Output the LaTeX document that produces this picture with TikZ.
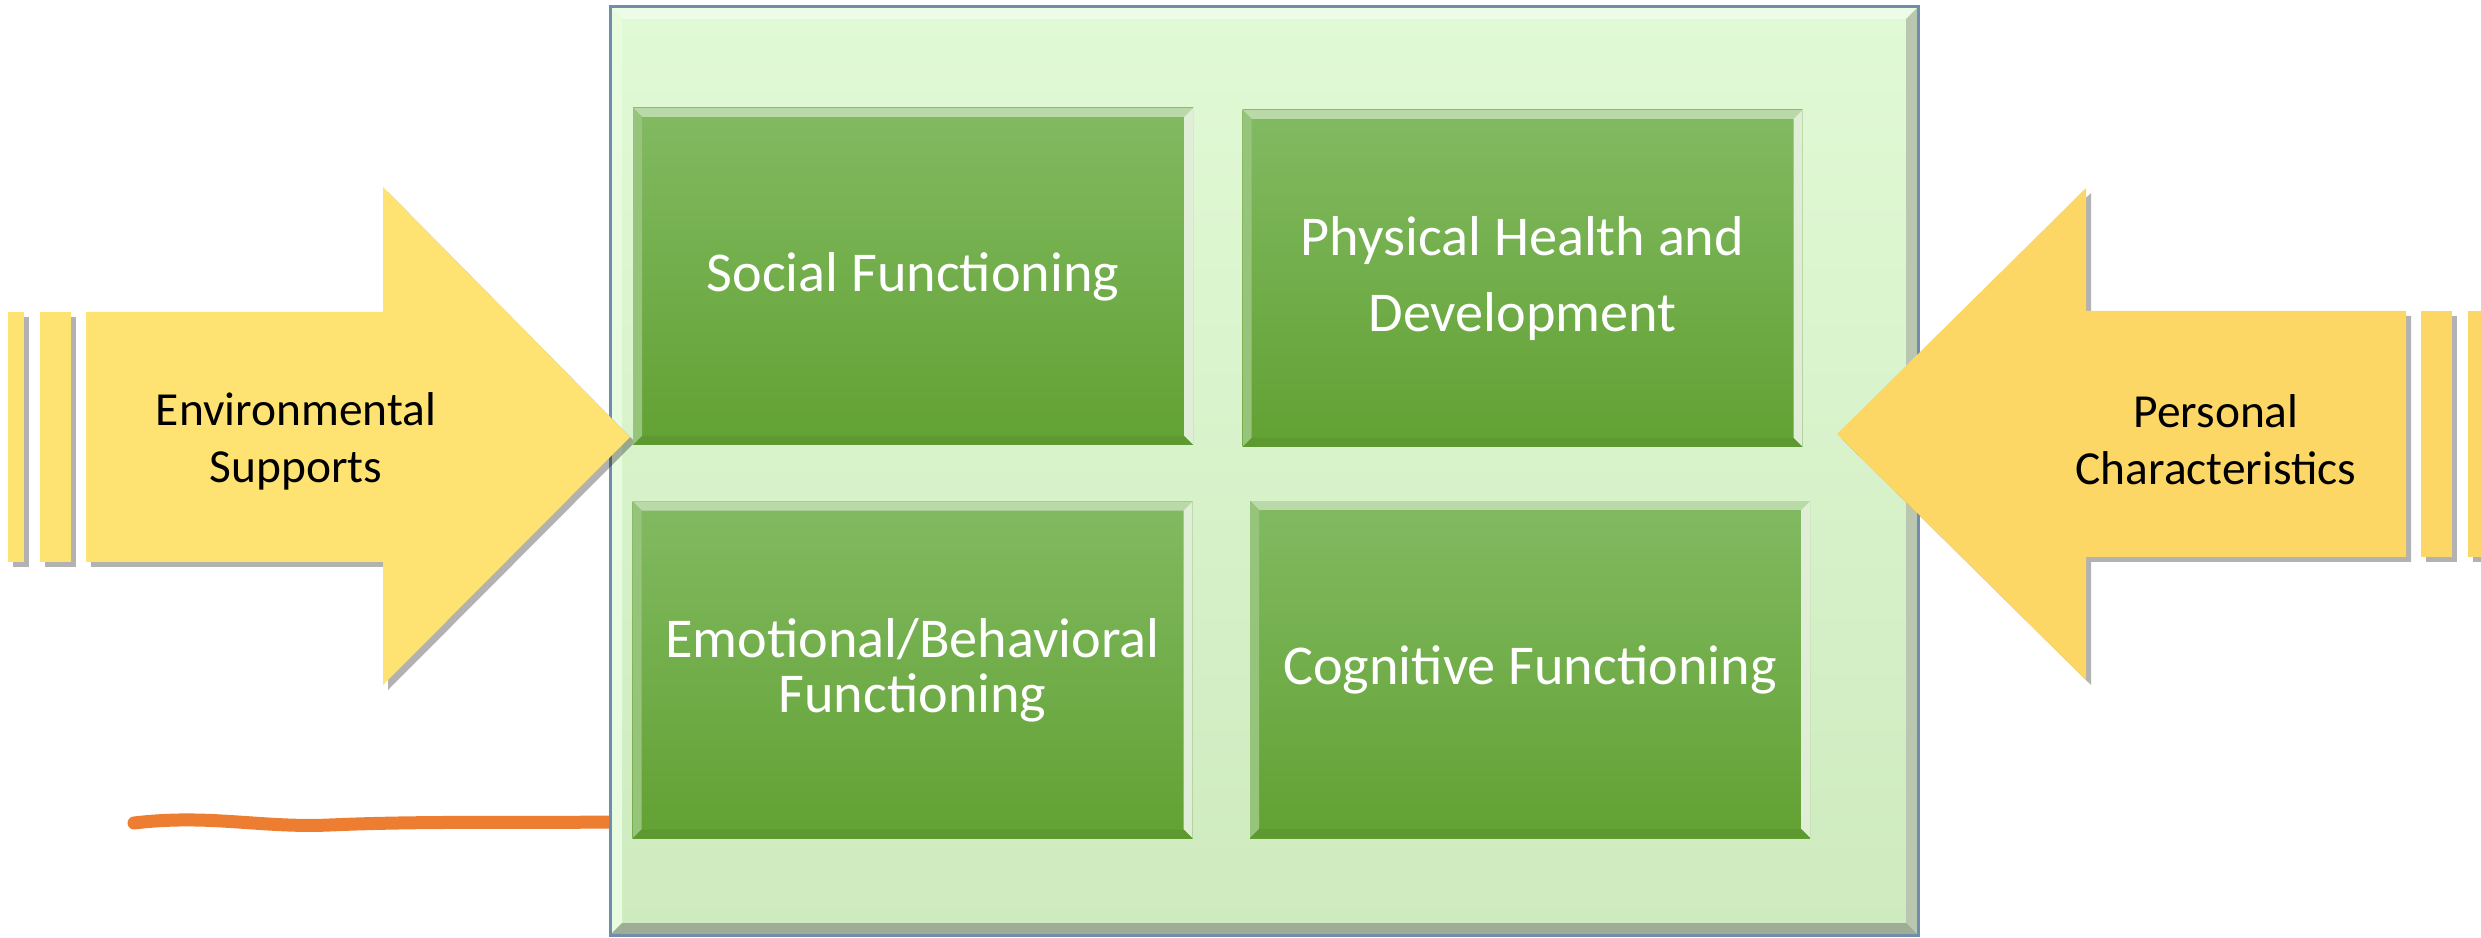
\documentclass[tikz,border=0pt]{standalone}
\usepackage{fontspec}
\setmainfont{Carlito}
\usetikzlibrary{shadows}

\definecolor{paneltop}{RGB}{225,250,214}
\definecolor{panelbot}{RGB}{206,234,190}
\definecolor{domaintop}{RGB}{130,186,98}
\definecolor{domainbot}{RGB}{98,161,51}
\definecolor{envyellow}{RGB}{254,227,114}
\definecolor{persyellow}{RGB}{252,215,101}
\definecolor{scribbleorange}{RGB}{237,125,49}

% bevelled edges: top, left, right, bottom fill and bevel size
\tikzset{
  bevel/.style n args={5}{path picture={
    \path (path picture bounding box.north west) coordinate (bnw)
          (path picture bounding box.north east) coordinate (bne)
          (path picture bounding box.south east) coordinate (bse)
          (path picture bounding box.south west) coordinate (bsw);
    \fill[#1] (bnw) -- (bne) -- ([shift={(-#5,-#5)}]bne) -- ([shift={(#5,-#5)}]bnw) -- cycle;
    \fill[#2] (bnw) -- ([shift={(#5,-#5)}]bnw) -- ([shift={(#5,#5)}]bsw) -- (bsw) -- cycle;
    \fill[#3] (bne) -- ([shift={(-#5,-#5)}]bne) -- ([shift={(-#5,#5)}]bse) -- (bse) -- cycle;
    \fill[#4] (bsw) -- ([shift={(#5,#5)}]bsw) -- ([shift={(-#5,#5)}]bse) -- (bse) -- cycle;
  }}
}

\begin{document}
\begin{tikzpicture}[x=0.1mm,y=-0.1mm]
	\useasboundingbox (0,0) rectangle (2481,938);

	\tikzstyle{panelbox}=[draw={rgb,255:red,112;green,142;blue,172}, line width=0.3mm, top color=paneltop, bottom color=panelbot, minimum width=130.8mm, minimum height=92.8mm, inner sep=0pt]
	\tikzstyle{panelbox}+=[bevel={paneltop!60!white}{paneltop!80!white}{panelbot!75!black!70}{panelbot!65!black!80}{1.2mm}]

	\tikzstyle{domainbox}=[top color=domaintop, bottom color=domainbot, text=white, align=center, inner sep=0pt, minimum width=56mm, minimum height=33.7mm]
	\tikzstyle{domainbox}+=[font=\fontsize{16}{21.6}\selectfont]
	\tikzstyle{domainbox}+=[bevel={domaintop!55!white}{domaintop!85!white}{domaintop!25!white}{domainbot!95!black}{0.9mm}]

	\tikzstyle{arrowshadow}=[drop shadow={shadow xshift=0.5mm, shadow yshift=-0.5mm, opacity=0.3, fill=black}]
	\tikzstyle{supporttext}=[align=center, text=black, font=\fontsize{13.5}{16.2}\selectfont]

	% hand drawn mark, runs under the panel
	\draw[scribbleorange, line width=1.3mm, line cap=round] (134,823) .. controls (210,814) and (260,828) .. (330,825) .. controls (420,821) and (520,823) .. (615,822);

	\node[panelbox] (wellbeing) at (1264,471) {};

	% incoming arrows
	\fill[envyellow, arrowshadow] (86,312) -- (383,312) -- (383,187) -- (630,437) -- (383,685) -- (383,562) -- (86,562) -- cycle;
	\fill[envyellow, arrowshadow] (40,312) rectangle (71,562);
	\fill[envyellow, arrowshadow] (8,312) rectangle (24,562);

	\fill[persyellow, arrowshadow] (2406,311) -- (2086,311) -- (2086,188) -- (1837,434) -- (2086,680) -- (2086,557) -- (2406,557) -- cycle;
	\fill[persyellow, arrowshadow] (2421,311) rectangle (2452,557);
	\fill[persyellow, arrowshadow] (2468,311) rectangle (2500,557);

	\node[supporttext] (envsupports) at (296,441) {Environmental\\Supports};
	\node[supporttext] (perschar) at (2216,440) {Personal\\Characteristics};

	% the four domains
	\node[domainbox] (social) at (913,276.5) {Social Functioning};
	\node[domainbox] (physical) at (1522.5,278.5) {Physical Health and\\Development};
	\node[domainbox, font=\fontsize{16}{15.6}\selectfont] (emotional) at (912.5,670) {Emotional/Behavioral\\Functioning};
	\node[domainbox] (cognitive) at (1530,669.5) {Cognitive Functioning};
\end{tikzpicture}
\end{document}
